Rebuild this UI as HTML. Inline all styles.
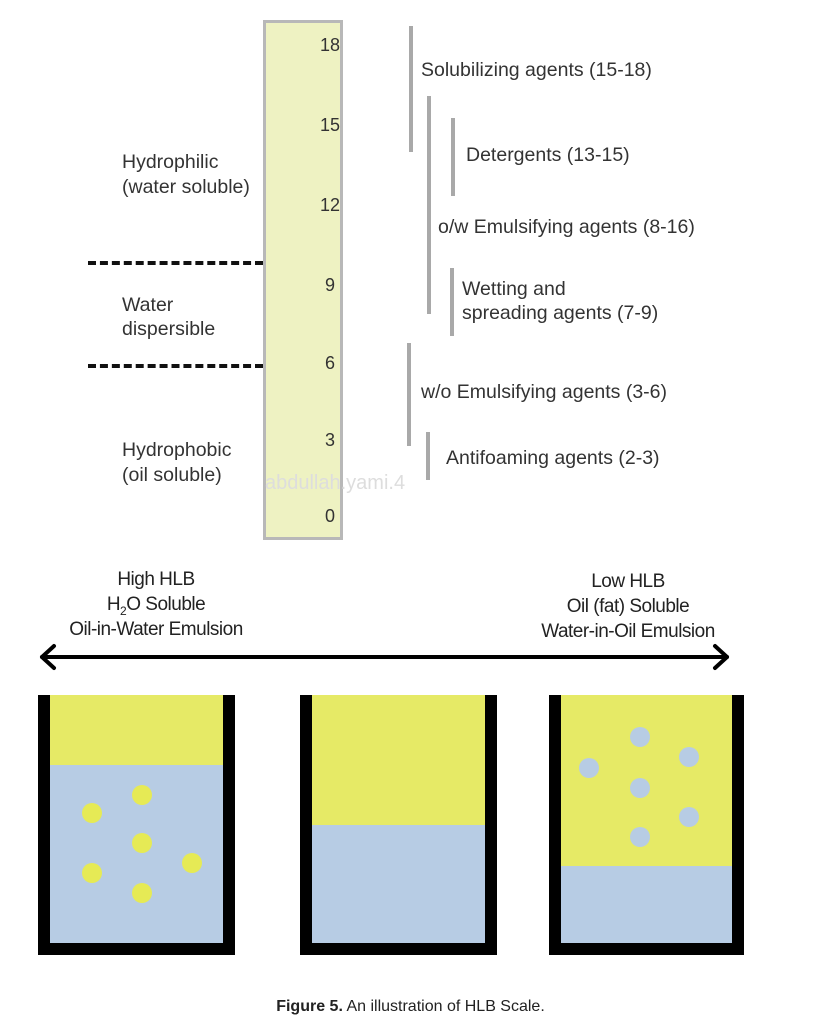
<!DOCTYPE html>
<html><head><style>
body{margin:0;background:#fff;width:821px;height:1024px;position:relative;overflow:hidden;font-family:"Liberation Sans",sans-serif;color:#333}
.t{position:absolute;font-size:19.5px;white-space:nowrap;line-height:22px}
.n{position:absolute;font-size:18px;width:40px;text-align:center;left:310px}
.b{position:absolute;background:#a9a9a9;width:4px}
.c{position:absolute;font-family:"Liberation Sans",sans-serif;font-size:19px;color:#222;text-align:center;width:300px;line-height:25px;letter-spacing:-0.5px}
sub{line-height:0;font-size:12px}
</style></head><body>
<div style="position:absolute;left:263px;top:20px;width:74px;height:514px;background:#eef2c2;border:3px solid #b8b8b8"></div>
<div class="n" style="top:35px">18</div>
<div class="n" style="top:115px">15</div>
<div class="n" style="top:195px">12</div>
<div class="n" style="top:275px">9</div>
<div class="n" style="top:353px">6</div>
<div class="n" style="top:430px">3</div>
<div class="n" style="top:506px">0</div>
<div style="position:absolute;left:265px;top:472px;font-size:20px;color:#ddd">abdullah.yami.4</div>
<div class="t" style="left:122px;top:150px;line-height:25px">Hydrophilic<br>(water soluble)</div>
<div class="t" style="left:122px;top:293px;line-height:24px">Water<br>dispersible</div>
<div class="t" style="left:122px;top:438px;line-height:25px">Hydrophobic<br>(oil soluble)</div>
<div style="position:absolute;left:88px;top:261px;width:175px;border-top:4px dashed #111"></div>
<div style="position:absolute;left:88px;top:364px;width:175px;border-top:4px dashed #111"></div>
<div class="b" style="left:409px;top:26px;height:126px"></div>
<div class="b" style="left:427px;top:96px;height:218px"></div>
<div class="b" style="left:451px;top:118px;height:78px"></div>
<div class="b" style="left:450px;top:268px;height:68px"></div>
<div class="b" style="left:407px;top:343px;height:103px"></div>
<div class="b" style="left:426px;top:432px;height:48px"></div>
<div class="t" style="left:421px;top:59px">Solubilizing agents (15-18)</div>
<div class="t" style="left:466px;top:144px">Detergents (13-15)</div>
<div class="t" style="left:438px;top:216px">o/w Emulsifying agents (8-16)</div>
<div class="t" style="left:462px;top:277px;line-height:24px">Wetting and<br>spreading agents (7-9)</div>
<div class="t" style="left:421px;top:381px">w/o Emulsifying agents (3-6)</div>
<div class="t" style="left:446px;top:447px">Antifoaming agents (2-3)</div>
<div class="c" style="left:6px;top:567px">High HLB<br>H<sub>2</sub>O Soluble<br>Oil-in-Water Emulsion</div>
<div class="c" style="left:478px;top:569px">Low HLB<br>Oil (fat) Soluble<br>Water-in-Oil Emulsion</div>
<svg style="position:absolute;left:0;top:0" width="821" height="1024">
<g stroke="#000" stroke-width="4" fill="none" stroke-linecap="round" stroke-linejoin="round">
<line x1="42" y1="657" x2="727" y2="657"/>
<polyline points="54,646 42,657 54,668"/>
<polyline points="715,646 727,657 715,668"/>
</g>
<rect x="44" y="695" width="180" height="70" fill="#e6ea66"/>
<rect x="44" y="765" width="180" height="180" fill="#b7cce4"/>
<path d="M44 695V949H229V695" stroke="#000" stroke-width="12" fill="none"/>
<g fill="#e6ea55"><circle cx="142" cy="795" r="10"/><circle cx="92" cy="813" r="10"/><circle cx="142" cy="843" r="10"/><circle cx="92" cy="873" r="10"/><circle cx="192" cy="863" r="10"/><circle cx="142" cy="893" r="10"/></g>
<rect x="306" y="695" width="185" height="130" fill="#e6ea66"/>
<rect x="306" y="825" width="185" height="120" fill="#b7cce4"/>
<path d="M306 695V949H491V695" stroke="#000" stroke-width="12" fill="none"/>
<rect x="555" y="695" width="183" height="171" fill="#e6ea66"/>
<rect x="555" y="866" width="183" height="80" fill="#b7cce4"/>
<path d="M555 695V949H738V695" stroke="#000" stroke-width="12" fill="none"/>
<g fill="#b7cce4"><circle cx="640" cy="737" r="10"/><circle cx="589" cy="768" r="10"/><circle cx="689" cy="757" r="10"/><circle cx="640" cy="788" r="10"/><circle cx="689" cy="817" r="10"/><circle cx="640" cy="837" r="10"/></g>
</svg>
<div style="position:absolute;left:0;width:821px;top:998px;text-align:center;font-size:16px;color:#222"><b>Figure 5.</b> An illustration of HLB Scale.</div>
</body></html>
